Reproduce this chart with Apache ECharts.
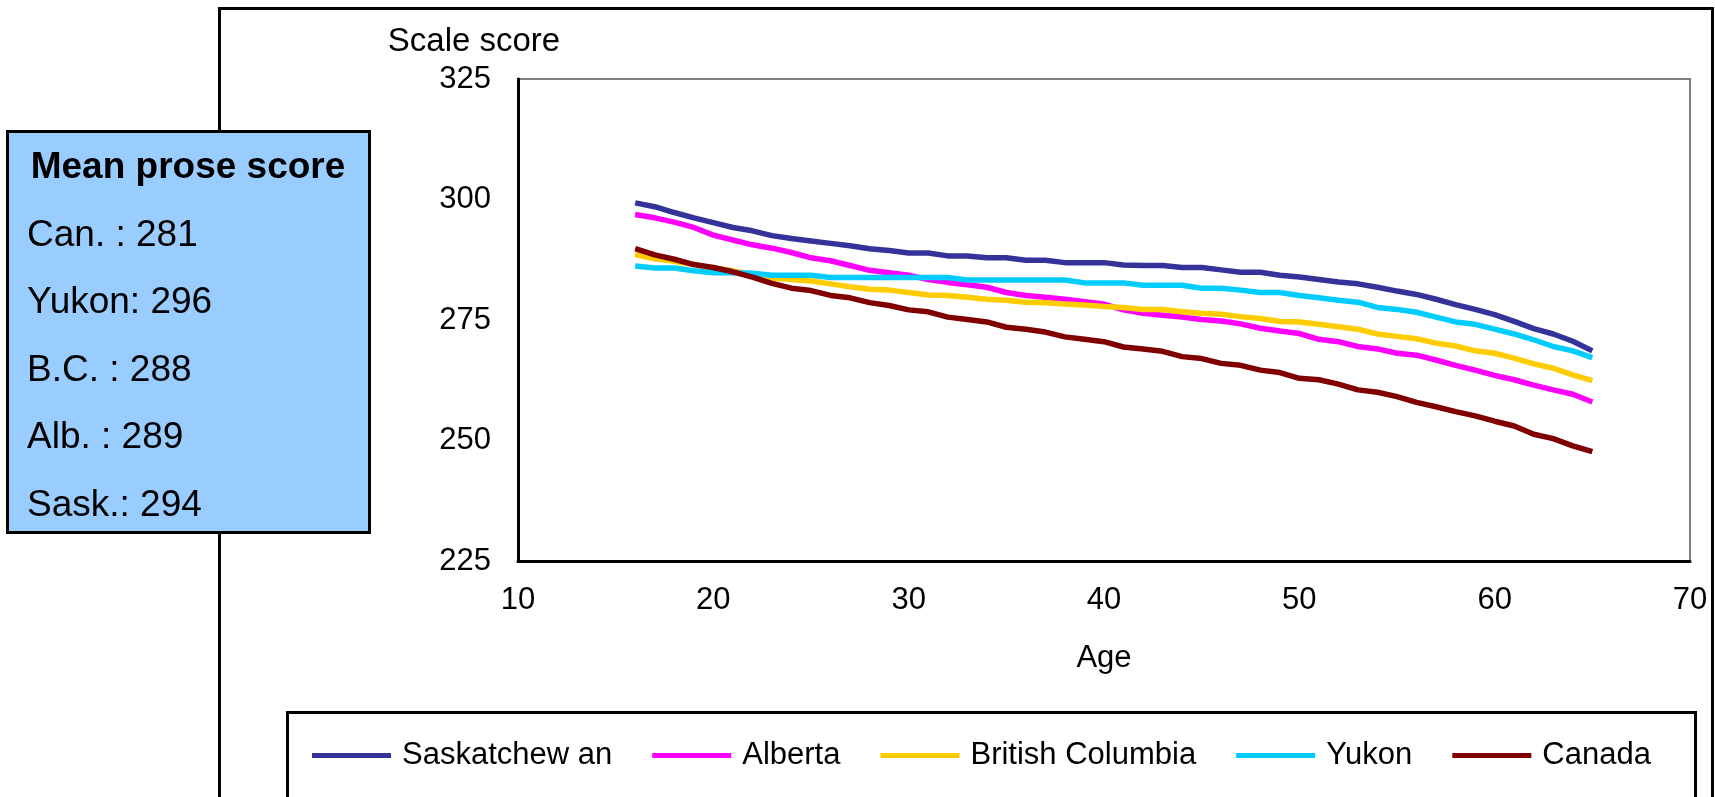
<!DOCTYPE html>
<html>
<head>
<meta charset="utf-8">
<title>Scale score by age</title>
<script src="https://cdn.jsdelivr.net/npm/echarts@6/dist/echarts.min.js"></script>
<style>
  html, body { margin: 0; padding: 0; background: #fff; }
  #chart { width: 1715px; height: 797px; }
</style>
</head>
<body>
<div id="chart"></div>
<script>
// Age of respondent (x values)
const ages = [16, 17, 18, 19, 20, 21, 22, 23, 24, 25,
              26, 27, 28, 29, 30, 31, 32, 33, 34, 35,
              36, 37, 38, 39, 40, 41, 42, 43, 44, 45,
              46, 47, 48, 49, 50, 51, 52, 53, 54, 55,
              56, 57, 58, 59, 60, 61, 62, 63, 64, 65];

// Mean scale score by age, one list per jurisdiction
const saskatchewan = [299.3, 298.5, 297.3, 296.2, 295.2, 294.2, 293.5, 292.5, 291.9, 291.4,
                      290.9, 290.4, 289.8, 289.4, 288.9, 288.9, 288.3, 288.3, 287.9, 287.9,
                      287.4, 287.4, 286.9, 286.9, 286.9, 286.4, 286.3, 286.3, 285.9, 285.9,
                      285.4, 284.9, 284.9, 284.3, 283.9, 283.4, 282.9, 282.5, 281.8, 281.0,
                      280.3, 279.3, 278.2, 277.2, 276.1, 274.7, 273.2, 272.1, 270.6, 268.6];
const alberta = [296.9, 296.2, 295.3, 294.2, 292.6, 291.6, 290.6, 289.9, 289.0, 287.9,
                 287.3, 286.3, 285.3, 284.8, 284.3, 283.4, 282.8, 282.3, 281.8, 280.7,
                 280.1, 279.7, 279.3, 278.8, 278.3, 277.1, 276.4, 276.0, 275.6, 275.1,
                 274.8, 274.2, 273.3, 272.7, 272.2, 271.0, 270.5, 269.5, 269.0, 268.1,
                 267.7, 266.7, 265.6, 264.6, 263.5, 262.6, 261.5, 260.5, 259.6, 258.0];
const britishColumbia = [288.6, 287.7, 287.2, 286.5, 285.8, 285.2, 284.5, 283.7, 283.4, 283.1,
                         282.5, 281.9, 281.4, 281.2, 280.7, 280.2, 280.1, 279.7, 279.3, 279.1,
                         278.7, 278.6, 278.3, 278.1, 277.8, 277.6, 277.2, 277.2, 276.7, 276.4,
                         276.2, 275.7, 275.3, 274.7, 274.6, 274.1, 273.6, 273.1, 272.1, 271.6,
                         271.1, 270.2, 269.6, 268.6, 268.1, 267.1, 265.9, 265.0, 263.6, 262.4];
const yukon = [286.2, 285.8, 285.8, 285.2, 284.8, 284.8, 284.7, 284.3, 284.3, 284.3,
               283.8, 283.8, 283.8, 283.8, 283.8, 283.8, 283.8, 283.3, 283.3, 283.3,
               283.3, 283.3, 283.3, 282.7, 282.7, 282.7, 282.2, 282.2, 282.2, 281.6,
               281.6, 281.2, 280.7, 280.7, 280.1, 279.6, 279.1, 278.7, 277.6, 277.2,
               276.6, 275.6, 274.6, 274.1, 273.1, 272.1, 270.9, 269.5, 268.6, 267.2];
const canada = [289.8, 288.5, 287.6, 286.5, 285.9, 285.0, 283.9, 282.6, 281.6, 281.1,
                280.1, 279.6, 278.6, 278.0, 277.1, 276.7, 275.6, 275.1, 274.6, 273.5,
                273.1, 272.5, 271.5, 271.0, 270.5, 269.4, 269.0, 268.5, 267.4, 267.0,
                266.0, 265.6, 264.6, 264.1, 262.9, 262.6, 261.7, 260.5, 260.0, 259.1,
                257.9, 257.0, 256.0, 255.1, 254.0, 253.0, 251.3, 250.4, 248.9, 247.7];

// Series names and colours
const seriesNames = ['Saskatchew an', 'Alberta', 'British Columbia', 'Yukon', 'Canada'];
const seriesColors = ['#333399', '#FF00FF', '#FFCC00', '#00CCFF', '#800000'];
const seriesValues = [saskatchewan, alberta, britishColumbia, yukon, canada];

// Mean prose score panel
const panelTitle = 'Mean prose score';
const panelLines = ['Can. : 281', 'Yukon: 296', 'B.C. : 288', 'Alb. : 289', 'Sask.: 294'];

// Axis ticks
const xTicks = { min: 10, max: 70, interval: 10 };
const yTicks = { min: 225, max: 325, interval: 25 };

const FONT = "'Liberation Sans', Arial, sans-serif";

const chart = echarts.init(document.getElementById('chart'));

const series = seriesNames.map((name, i) => ({
  name: name,
  type: 'line',
  symbol: 'none',
  showSymbol: false,
  smooth: false,
  color: seriesColors[i],
  lineStyle: { width: 5.5, color: seriesColors[i] },
  data: ages.map((a, k) => [a, seriesValues[i][k]]),
  z: 3
}));

const panelTexts = panelLines.map((t, i) => ({
  type: 'text',
  left: 27,
  top: 217 + i * 67.5,
  style: { text: t, font: '37px ' + FONT, fill: '#000' },
  z: 101
}));

chart.setOption({
  backgroundColor: '#ffffff',
  animation: false,
  textStyle: { fontFamily: FONT, color: '#000' },
  grid: {
    left: 518, top: 79, width: 1172, height: 482,
    show: true, borderColor: '#808080', borderWidth: 2,
    backgroundColor: 'transparent',
    containLabel: false,
    outerBoundsMode: 'none'
  },
  xAxis: {
    type: 'value',
    min: xTicks.min, max: xTicks.max, interval: xTicks.interval,
    name: 'Age',
    nameLocation: 'middle',
    nameGap: 82,
    nameTextStyle: { fontSize: 31, color: '#000', fontFamily: FONT },
    axisLine: { show: true, onZero: false, lineStyle: { color: '#000', width: 3 } },
    axisTick: { show: false },
    splitLine: { show: false },
    axisLabel: { fontSize: 31, color: '#000', margin: 24, fontFamily: FONT }
  },
  yAxis: {
    type: 'value',
    min: yTicks.min, max: yTicks.max, interval: yTicks.interval,
    name: 'Scale score',
    nameLocation: 'end',
    nameGap: 37,
    nameTextStyle: {
      fontSize: 33, color: '#000', fontFamily: FONT,
      align: 'center', verticalAlign: 'middle', padding: [0, 88, 0, 0]
    },
    axisLine: { show: true, onZero: false, lineStyle: { color: '#000', width: 3 } },
    axisTick: { show: false },
    splitLine: { show: false },
    axisLabel: { fontSize: 31, color: '#000', margin: 27, fontFamily: FONT }
  },
  legend: {
    data: seriesNames,
    left: 312,
    top: 740,
    padding: 0,
    itemGap: 40,
    itemWidth: 79,
    itemHeight: 5,
    icon: 'rect',
    textStyle: { fontSize: 31, color: '#000', fontFamily: FONT, padding: [0, 0, 0, 6] }
  },
  graphic: [
    {
      // outer chart frame
      type: 'rect',
      shape: { x: 219.5, y: 8.5, width: 1493, height: 900 },
      style: { fill: 'none', stroke: '#000', lineWidth: 3 },
      silent: true,
      z: 0
    },
    {
      // legend frame
      type: 'rect',
      shape: { x: 287.5, y: 712.5, width: 1408, height: 200 },
      style: { fill: 'none', stroke: '#000', lineWidth: 3 },
      silent: true,
      z: 1
    },
    {
      // score panel
      type: 'rect',
      shape: { x: 7.5, y: 131.5, width: 362, height: 401 },
      style: { fill: '#99CCFF', stroke: '#000', lineWidth: 3 },
      z: 100
    },
    {
      type: 'text',
      x: 188,
      y: 168,
      style: {
        text: panelTitle, font: 'bold 37px ' + FONT, fill: '#000',
        align: 'center', verticalAlign: 'middle'
      },
      z: 101
    }
  ].concat(panelTexts),
  series: series
});
</script>
</body>
</html>
